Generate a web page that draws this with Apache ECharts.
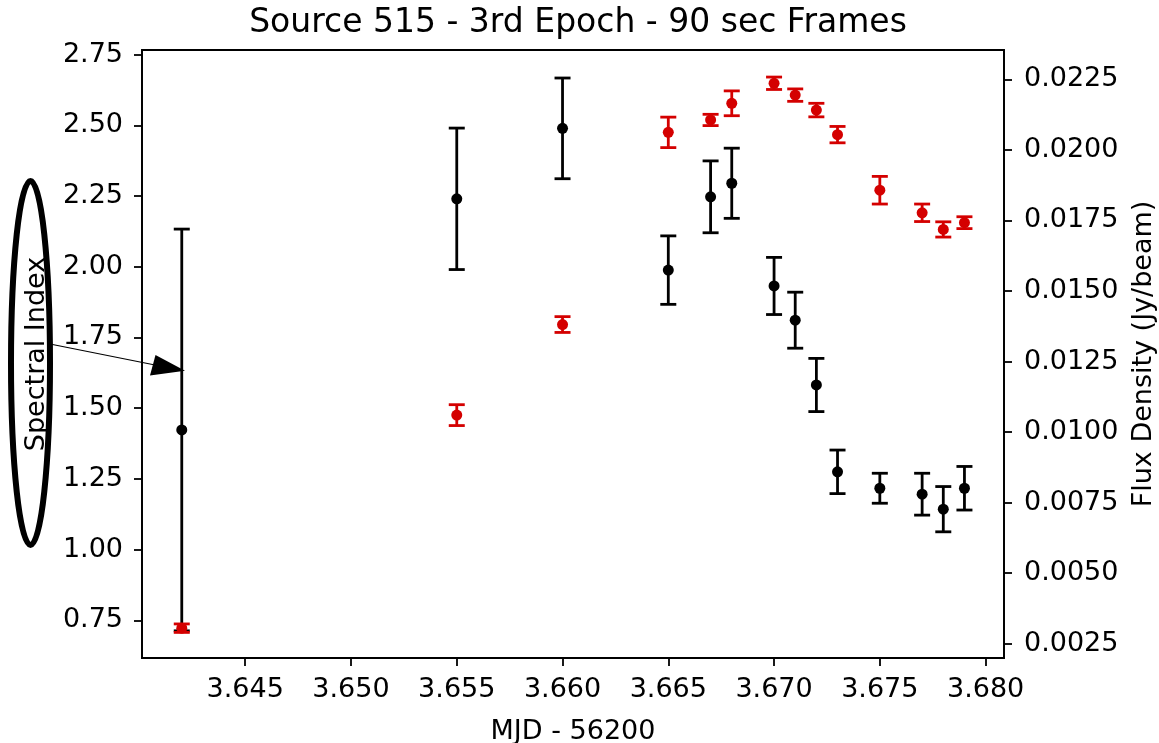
<!DOCTYPE html>
<html>
<head>
<meta charset="UTF-8">
<title>Source 515</title>
<style>
	* { margin: 0; padding: 0; }
	html, body { width: 100%; height: 100%; background: #fff; overflow: hidden; }
	#chart { width: 1159px; height: 743px; }
</style>
</head>
<body>
<div id="chart"></div>
<script src="https://cdn.jsdelivr.net/npm/echarts@6/dist/echarts.min.js"></script>
<script>
	// MJD - 56200
	var mjd = [3.642, 3.655, 3.660, 3.665, 3.667, 3.668, 3.670, 3.671, 3.672, 3.673, 3.675, 3.677, 3.678, 3.679];
	// spectral index (left axis)
	var specIdx = [1.423, 2.240, 2.489, 1.988, 2.247, 2.295, 1.932, 1.811, 1.582, 1.275, 1.217, 1.196, 1.143, 1.217];
	var specErr = [0.710, 0.250, 0.178, 0.121, 0.127, 0.124, 0.101, 0.099, 0.094, 0.077, 0.053, 0.074, 0.080, 0.077];
	// flux density, Jy/beam (right axis)
	var flux = [0.00305, 0.01060, 0.01381, 0.02062, 0.02106, 0.02165, 0.02236, 0.02194, 0.02141, 0.02054, 0.01857, 0.01777, 0.01718, 0.01742];
	var fluxErr = [0.00015, 0.00037, 0.00028, 0.00054, 0.00020, 0.00044, 0.00022, 0.00022, 0.00024, 0.00029, 0.00049, 0.00031, 0.00027, 0.00021];

	var xTicks = [3.645, 3.650, 3.655, 3.660, 3.665, 3.670, 3.675, 3.680];
	var leftTicks = [0.75, 1.00, 1.25, 1.50, 1.75, 2.00, 2.25, 2.50, 2.75];
	var rightTicks = [0.0025, 0.0050, 0.0075, 0.0100, 0.0125, 0.0150, 0.0175, 0.0200, 0.0225];

	var FONT = 'DejaVu Sans';
	var FS = 27;
	var RED = '#d40000';

	function makeData(xs, ys, es) {
		return xs.map(function(x, i) { return [x, ys[i], es[i]]; });
	}

	// errorbar + dot, matplotlib style
	function errRender(color) {
		return function(params, api) {
			var x = api.value(0), y = api.value(1), e = api.value(2);
			var hi = api.coord([x, y + e]);
			var lo = api.coord([x, y - e]);
			var c = api.coord([x, y]);
			var w = 8;
			var st = { stroke: color, lineWidth: 2.8 };
			return {
				type: 'group',
				children: [
					{ type: 'line', shape: { x1: hi[0], y1: hi[1], x2: lo[0], y2: lo[1] }, style: st },
					{ type: 'line', shape: { x1: hi[0] - w, y1: hi[1], x2: hi[0] + w, y2: hi[1] }, style: st },
					{ type: 'line', shape: { x1: lo[0] - w, y1: lo[1], x2: lo[0] + w, y2: lo[1] }, style: st },
					{ type: 'circle', shape: { cx: c[0], cy: c[1], r: 5.5 }, style: { fill: color } }
				]
			};
		};
	}

	function axisCommon() {
		return {
			axisLine: { show: true, lineStyle: { color: '#000', width: 1.8 } },
			axisTick: { show: true, length: 8, lineStyle: { color: '#000', width: 1.8 } },
			splitLine: { show: false },
			nameTextStyle: { color: '#000', fontFamily: FONT, fontSize: FS }
		};
	}

	var chart = echarts.init(document.getElementById('chart'), null, { renderer: 'canvas' });

	var xAxis = axisCommon();
	Object.assign(xAxis, {
		type: 'value',
		min: 3.64012,
		max: 3.68087,
		name: 'MJD - 56200',
		nameLocation: 'middle',
		nameGap: 60
	});
	xAxis.axisTick.customValues = xTicks;
	xAxis.axisLabel = {
		customValues: xTicks, margin: 18, color: '#000', fontFamily: FONT, fontSize: FS,
		formatter: function(v) { return v.toFixed(3); }
	};

	var yLeft = axisCommon();
	Object.assign(yLeft, {
		type: 'value',
		position: 'left',
		min: 0.617,
		max: 2.766,
		name: 'Spectral Index',
		nameLocation: 'middle',
		nameGap: 92
	});
	yLeft.axisTick.customValues = leftTicks;
	yLeft.axisLabel = {
		customValues: leftTicks, margin: 19, color: '#000', fontFamily: FONT, fontSize: FS,
		formatter: function(v) { return v.toFixed(2); }
	};

	var yRight = axisCommon();
	Object.assign(yRight, {
		type: 'value',
		position: 'right',
		min: 0.001993,
		max: 0.023539,
		name: 'Flux Density (Jy/beam)',
		nameLocation: 'middle',
		nameGap: 126
	});
	yRight.axisTick.customValues = rightTicks;
	yRight.axisLabel = {
		customValues: rightTicks, margin: 20, color: '#000', fontFamily: FONT, fontSize: FS,
		formatter: function(v) { return v.toFixed(4); }
	};

	var option = {
		backgroundColor: '#fff',
		animation: false,
		textStyle: { fontFamily: FONT },
		title: {
			text: 'Source 515 - 3rd Epoch - 90 sec Frames',
			left: 573,
			textAlign: 'center',
			top: 2,
			textStyle: { color: '#000', fontFamily: FONT, fontSize: 33, fontWeight: 'normal' }
		},
		grid: {
			left: 142,
			right: 155,
			top: 50,
			bottom: 85,
			outerBoundsMode: 'none',
			containLabel: false,
			show: true,
			borderColor: '#000',
			borderWidth: 1.8,
			backgroundColor: 'transparent'
		},
		xAxis: xAxis,
		yAxis: [yLeft, yRight],
		series: [{
			name: 'Spectral Index',
			type: 'custom',
			xAxisIndex: 0,
			yAxisIndex: 0,
			renderItem: errRender('#000'),
			encode: { x: 0, y: [1] },
			data: makeData(mjd, specIdx, specErr),
			z: 2
		}, {
			name: 'Flux Density',
			type: 'custom',
			xAxisIndex: 0,
			yAxisIndex: 1,
			renderItem: errRender(RED),
			encode: { x: 0, y: [1] },
			data: makeData(mjd, flux, fluxErr),
			z: 3
		}],
		// hand-drawn annotation: ellipse round the axis name and an arrow
		graphic: [{
			type: 'ellipse',
			shape: { cx: 30.5, cy: 363, rx: 19.5, ry: 182 },
			style: { fill: 'none', stroke: '#000', lineWidth: 6 },
			z: 100
		}, {
			type: 'line',
			shape: { x1: 50, y1: 344, x2: 160, y2: 366 },
			style: { stroke: '#000', lineWidth: 1.2 },
			z: 100
		}, {
			type: 'polygon',
			shape: { points: [[155.5, 355], [150, 375.5], [185, 370.7]] },
			style: { fill: '#000' },
			z: 100
		}]
	};

	chart.setOption(option);

	window.onresize = function() {
		chart.resize();
	};
</script>
</body>
</html>
